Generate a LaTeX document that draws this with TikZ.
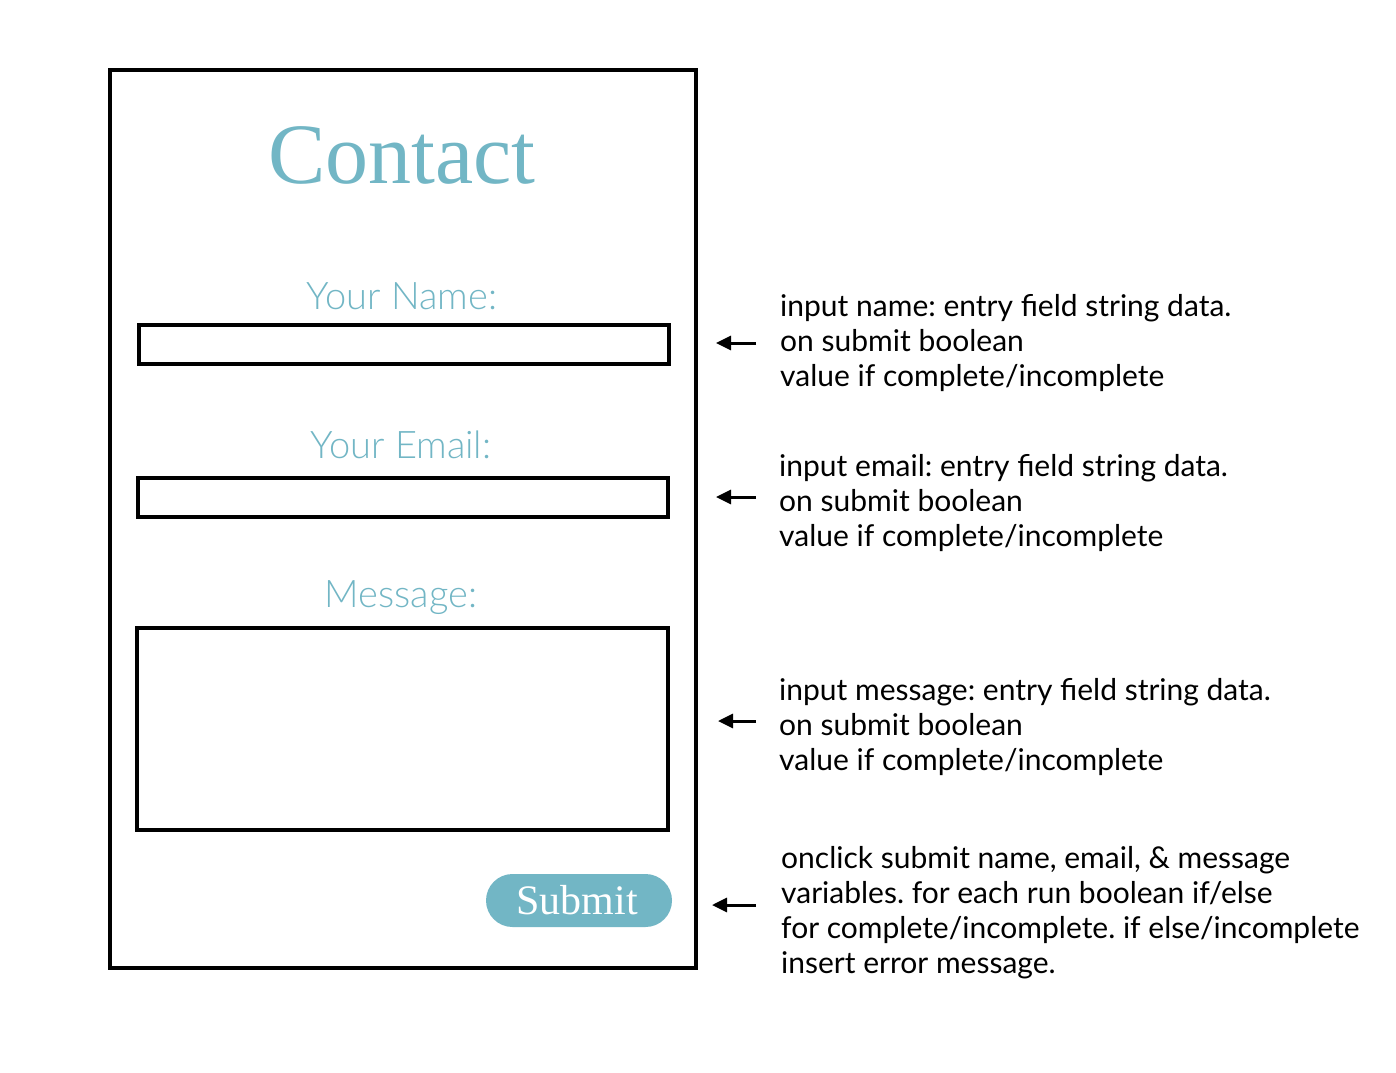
\documentclass[tikz,border=0pt]{standalone}
\usepackage{fontspec}
\usetikzlibrary{arrows.meta}
\newfontfamily\lato{Lato}
\newfontfamily\latolight{Lato Light}
\newfontfamily\titleserif{Liberation Serif}
\definecolor{teal}{HTML}{72B6C5}
\frenchspacing
\begin{document}
\begin{tikzpicture}[x=1pt,y=-1pt,
  boxline/.style={draw=black,line width=3.6pt},
  label/.style={anchor=base,text=teal,font=\latolight\fontsize{38}{44}\selectfont,inner sep=0pt},
  note/.style={anchor=west,align=left,inner sep=0pt,font=\lato\fontsize{30}{35}\selectfont},
  ptr/.style={line width=3pt,-{Triangle[length=15pt,width=14pt]}}]
\useasboundingbox (0,0) rectangle (1396,1072);
\fill[white] (0,0) rectangle (1396,1072);
\draw[boxline] (110,70) rectangle (696,968);
\node[anchor=base,text=teal,font=\titleserif\fontsize{86}{90}\selectfont,inner sep=0pt] (title) at (402,183) {Contact};
\node[label] (lname) at (402,309.5) {Your Name:};
\node[boxline,minimum width=530pt,minimum height=39pt,inner sep=0pt] (fname) at (404,344.5) {};
\node[label] (lemail) at (401,458.5) {Your Email:};
\node[boxline,minimum width=530pt,minimum height=39pt,inner sep=0pt] (femail) at (403,497.5) {};
\node[label] (lmsg) at (401,607.5) {Message:};
\node[boxline,minimum width=531pt,minimum height=202pt,inner sep=0pt] (fmsg) at (402.5,729) {};
\node[fill=teal,rounded corners=26.5pt,minimum width=186pt,minimum height=53pt,inner sep=0pt] (submit) at (579,900.5) {};
\node[anchor=base,text=white,font=\titleserif\fontsize{42}{44}\selectfont,inner sep=0pt] (subtext) at (577,914) {Submit};
\node[note] (n1) at (780,343) {input name: entry field string data.\\on submit boolean\\value if complete/incomplete};
\node[note] (n2) at (779,503) {input email: entry field string data.\\on submit boolean\\value if complete/incomplete};
\node[note] (n3) at (779,727) {input message: entry field string data.\\on submit boolean\\value if complete/incomplete};
\node[note] (n4) at (781,912.5) {onclick submit name, email, \& message\\variables. for each run boolean if/else\\for complete/incomplete. if else/incomplete\\insert error message.};
\coordinate (a1) at (756,343);
\coordinate (b1) at (716,343);
\coordinate (a2) at (756,497);
\coordinate (b2) at (716,497);
\coordinate (a3) at (756,721);
\coordinate (b3) at (718,721);
\coordinate (a4) at (756,905);
\coordinate (b4) at (712,905);
\draw[ptr] (a1) -- (b1);
\draw[ptr] (a2) -- (b2);
\draw[ptr] (a3) -- (b3);
\draw[ptr] (a4) -- (b4);
\end{tikzpicture}
\end{document}
